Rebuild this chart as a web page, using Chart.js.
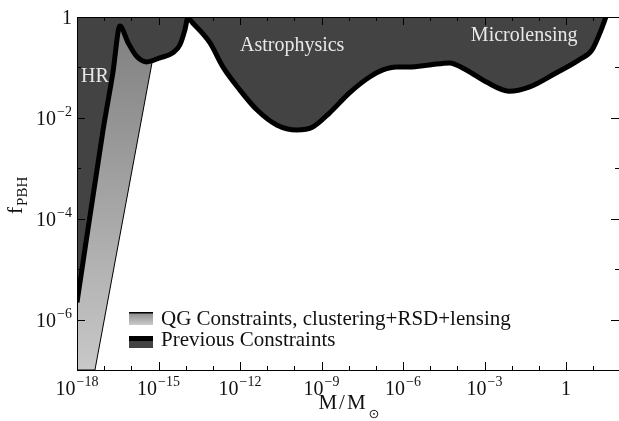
<!DOCTYPE html>
<html>
<head>
<meta charset="utf-8">
<script src="https://cdn.jsdelivr.net/npm/chart.js@4.4.1/dist/chart.umd.min.js"></script>
<style>
  html, body { margin: 0; padding: 0; background: #fff; }
  #wrap { width: 619px; height: 421px; }
</style>
</head>
<body>
<div id="wrap"><canvas id="pbh-chart" width="619" height="421"></canvas></div>
<script>
// log10(M/Msun) and log10(f_PBH)
const prevLogM = [-18, -17.04, -16.68, -16.42, -16.12, -15.79, -15.43, -14.95, -14.47, -14.21, -14.03, -13.92,
  -13.74, -13.11, -12.63, -12.0, -11.38, -10.65, -9.91, -9.32, -8.70, -7.96, -7.23, -6.74, -6.24,
  -5.76, -5.02, -4.29, -3.67, -2.93, -2.10, -1.36, -0.37, 0.48, 0.96, 1.29, 1.47];
const prevLogF = [-5.66, -2.24, -1.11, -0.18, -0.51, -0.79, -0.89, -0.81, -0.71, -0.55, -0.26, -0.02,
  -0.12, -0.51, -0.99, -1.45, -1.84, -2.14, -2.24, -2.18, -1.90, -1.50, -1.19, -1.05, -0.99,
  -0.99, -0.95, -0.91, -1.05, -1.29, -1.47, -1.39, -1.11, -0.85, -0.65, -0.26, 0];

const qgLogM = [-18, -17.34, -15.24];
const qgLogF = [-7, -7, -0.91];

const xLabelExp = [-18, -15, -12, -9, -6, -3, 0];
const yLabelExp = [0, -2, -4, -6];

const seriesNames = ["QG Constraints, clustering+RSD+lensing", "Previous Constraints"];
const regionNames = ["HR", "Astrophysics", "Microlensing"];
const regionLogM = [-17.34, -10.08, -1.54];
const regionLogF = [-1.19, -0.57, -0.38];

const toPoints = (lx, ly) => lx.map((v, i) => ({ x: Math.pow(10, v), y: Math.pow(10, ly[i]) }));

const DARK = "#434343";
const SERIF = "'Liberation Serif', 'DejaVu Serif', serif";

function drawPow(ctx, e, x, y, align) {
  const base = e === 0 ? "1" : "10";
  const sup = e === 0 ? "" : (e < 0 ? "\u2212" + (-e) : String(e));
  ctx.font = "20px " + SERIF;
  const wb = ctx.measureText(base).width;
  ctx.font = "14px " + SERIF;
  const ws = sup ? ctx.measureText(sup).width + 1 : 0;
  const total = wb + ws;
  let x0 = align === "center" ? x - total / 2 : x - total;
  ctx.textAlign = "left";
  ctx.textBaseline = "alphabetic";
  ctx.font = "20px " + SERIF;
  ctx.fillText(base, x0, y);
  if (sup) {
    ctx.font = "14px " + SERIF;
    ctx.fillText(sup, x0 + wb + 1, y - 9);
  }
}

const decorations = {
  id: "decorations",
  afterDraw(chart) {
    const ctx = chart.ctx;
    const a = chart.chartArea;
    const xs = chart.scales.x, ys = chart.scales.y;
    ctx.save();
    ctx.strokeStyle = "#000";
    ctx.lineWidth = 1;

    // frame
    ctx.beginPath();
    ctx.moveTo(a.left + 0.5, a.top);
    ctx.lineTo(a.left + 0.5, a.bottom + 0.5);
    ctx.lineTo(a.right, a.bottom + 0.5);
    ctx.moveTo(a.left, a.top + 0.5);
    ctx.lineTo(a.right, a.top + 0.5);
    ctx.stroke();

    // ticks
    ctx.beginPath();
    for (let e = -18; e <= 1; e++) {
      const px = Math.round(xs.getPixelForValue(Math.pow(10, e))) + 0.5;
      const len = e % 3 === 0 ? 8 : 4;
      ctx.moveTo(px, a.bottom); ctx.lineTo(px, a.bottom - len);
      ctx.moveTo(px, a.top); ctx.lineTo(px, a.top + len);
    }
    for (let e = -7; e <= 0; e++) {
      const py = Math.round(ys.getPixelForValue(Math.pow(10, e))) + 0.5;
      const len = e % 2 === 0 ? 8 : 4;
      ctx.moveTo(a.left, py); ctx.lineTo(a.left + len, py);
      ctx.moveTo(a.right, py); ctx.lineTo(a.right - len, py);
    }
    ctx.stroke();

    // tick labels
    ctx.fillStyle = "#111";
    xLabelExp.forEach(e => drawPow(ctx, e, xs.getPixelForValue(Math.pow(10, e)), a.bottom + 25, "center"));
    yLabelExp.forEach(e => drawPow(ctx, e, a.left - 5, ys.getPixelForValue(Math.pow(10, e)) + 7, "right"));

    // axis titles
    ctx.textBaseline = "alphabetic";
    ctx.textAlign = "left";
    ctx.font = "21px " + SERIF;
    ctx.letterSpacing = "2px";
    const mw = ctx.measureText("M/M").width;
    const mx = (a.left + a.right) / 2 - (mw + 10) / 2;
    ctx.fillText("M/M", mx, a.bottom + 39);
    ctx.letterSpacing = "0px";
    ctx.font = "13px 'DejaVu Sans', sans-serif";
    ctx.fillText("\u2299", mx + mw + 1, a.bottom + 48);

    ctx.save();
    ctx.translate(22, 196);
    ctx.rotate(-Math.PI / 2);
    ctx.font = "22px " + SERIF;
    const fw = ctx.measureText("f").width;
    ctx.font = "15px " + SERIF;
    const sw = ctx.measureText("PBH").width;
    const x0 = -(fw + sw) / 2;
    ctx.font = "22px " + SERIF;
    ctx.fillText("f", x0, 0);
    ctx.font = "15px " + SERIF;
    ctx.fillText("PBH", x0 + fw + 1, 5);
    ctx.restore();

    // region labels
    ctx.fillStyle = "#e8e8e8";
    ctx.font = "20px " + SERIF;
    ctx.textAlign = "center";
    ctx.textBaseline = "middle";
    regionNames.forEach((t, i) => {
      ctx.fillText(t, xs.getPixelForValue(Math.pow(10, regionLogM[i])), ys.getPixelForValue(Math.pow(10, regionLogF[i])));
    });

    // legend
    const lx = 129, lw = 24;
    const g = ctx.createLinearGradient(0, 313, 0, 325);
    g.addColorStop(0, "#8e8e8e");
    g.addColorStop(1, "#cacaca");
    ctx.fillStyle = g;
    ctx.fillRect(lx, 313, lw, 12);
    ctx.fillStyle = "#000";
    ctx.fillRect(lx, 312, lw, 1.5);
    ctx.fillStyle = DARK;
    ctx.fillRect(lx, 337, lw, 11);
    ctx.fillStyle = "#000";
    ctx.fillRect(lx, 336, lw, 5);

    ctx.fillStyle = "#111";
    ctx.font = "21px " + SERIF;
    ctx.textAlign = "left";
    ctx.textBaseline = "alphabetic";
    ctx.fillText(seriesNames[0], 161, 325);
    ctx.fillText(seriesNames[1], 161, 346);
    ctx.restore();
  }
};

const ctx = document.getElementById("pbh-chart");

new Chart(ctx, {
  type: "line",
  data: {
    datasets: [
      {
        label: seriesNames[1],
        data: toPoints(prevLogM, prevLogF),
        borderColor: "#000",
        borderWidth: 5,
        borderJoinStyle: "round",
        backgroundColor: DARK,
        fill: "end",
        pointRadius: 0,
        cubicInterpolationMode: "monotone",
        order: 0,
      },
      {
        label: seriesNames[0],
        data: toPoints(qgLogM, qgLogF),
        borderColor: "#000",
        borderWidth: 1,
        backgroundColor: function (c) {
          const area = c.chart.chartArea;
          if (!area) return "#aaa";
          const g = c.chart.ctx.createLinearGradient(0, area.top, 0, area.bottom);
          g.addColorStop(0, "#7e7e7e");
          g.addColorStop(1, "#c8c8c8");
          return g;
        },
        fill: "end",
        pointRadius: 0,
        tension: 0,
        order: 1,
      },
    ],
  },
  options: {
    responsive: false,
    animation: false,
    layout: { padding: { top: 17, right: 0, left: 0, bottom: 0 } },
    plugins: { legend: { display: false }, tooltip: { enabled: false } },
    scales: {
      x: {
        type: "logarithmic",
        min: 1e-18,
        max: Math.pow(10, 1.95),
        bounds: "data",
        grid: { display: false },
        border: { display: false },
        ticks: { display: false },
        afterFit: function (s) { s.height = 51; },
      },
      y: {
        type: "logarithmic",
        min: 1e-7,
        max: 1,
        bounds: "data",
        grid: { display: false },
        border: { display: false },
        ticks: { display: false },
        afterFit: function (s) { s.width = 77; },
      },
    },
  },
  plugins: [decorations],
});
</script>
</body>
</html>
